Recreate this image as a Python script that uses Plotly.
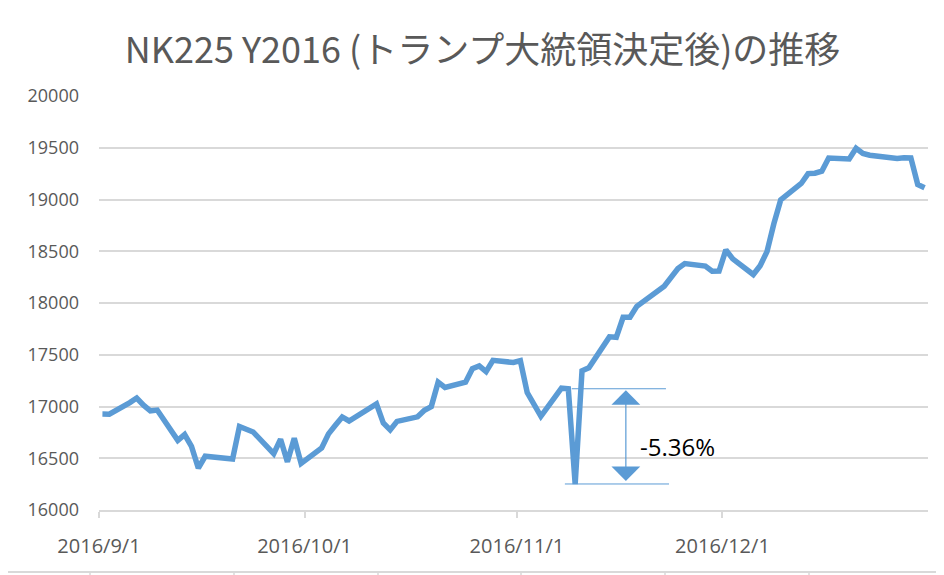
import pandas as pd
import plotly.graph_objects as go

# NK225 daily close, 2016/9/1 - 2016/12/30
dates = [
    "2016-09-01", "2016-09-02", "2016-09-05", "2016-09-06", "2016-09-07", "2016-09-08",
    "2016-09-09", "2016-09-12", "2016-09-13", "2016-09-14", "2016-09-15", "2016-09-16",
    "2016-09-20", "2016-09-21", "2016-09-23", "2016-09-26", "2016-09-27", "2016-09-28",
    "2016-09-29", "2016-09-30", "2016-10-03", "2016-10-04", "2016-10-05", "2016-10-06",
    "2016-10-07", "2016-10-11", "2016-10-12", "2016-10-13", "2016-10-14", "2016-10-17",
    "2016-10-18", "2016-10-19", "2016-10-20", "2016-10-21", "2016-10-24", "2016-10-25",
    "2016-10-26", "2016-10-27", "2016-10-28", "2016-10-31", "2016-11-01", "2016-11-02",
    "2016-11-04", "2016-11-07", "2016-11-08", "2016-11-09", "2016-11-10", "2016-11-11",
    "2016-11-14", "2016-11-15", "2016-11-16", "2016-11-17", "2016-11-18", "2016-11-21",
    "2016-11-22", "2016-11-24", "2016-11-25", "2016-11-28", "2016-11-29", "2016-11-30",
    "2016-12-01", "2016-12-02", "2016-12-05", "2016-12-06", "2016-12-07", "2016-12-08",
    "2016-12-09", "2016-12-12", "2016-12-13", "2016-12-14", "2016-12-15", "2016-12-16",
    "2016-12-19", "2016-12-20", "2016-12-21", "2016-12-22", "2016-12-26", "2016-12-27",
    "2016-12-28", "2016-12-29", "2016-12-30",
]
close = [
    16926.84, 16925.68, 17037.63, 17081.98, 17012.44, 16958.77,
    16965.76, 16672.92, 16729.04, 16614.24, 16405.01, 16519.29,
    16492.15, 16807.62, 16754.02, 16544.56, 16683.93, 16465.40,
    16693.71, 16449.84, 16598.67, 16735.65, 16819.24, 16899.10,
    16860.09, 17024.76, 16840.00, 16774.24, 16856.37, 16900.12,
    16963.61, 16998.91, 17235.02, 17184.59, 17234.42, 17365.25,
    17391.84, 17336.42, 17446.41, 17425.02, 17442.40, 17134.68,
    16905.36, 17177.21, 17171.38, 16251.54, 17344.42, 17374.79,
    17672.62, 17668.15, 17862.21, 17862.63, 17967.41, 18106.02,
    18162.94, 18333.41, 18381.22, 18356.89, 18307.04, 18308.48,
    18513.12, 18426.08, 18274.99, 18360.54, 18496.69, 18765.47,
    18996.37, 19155.03, 19250.52, 19253.61, 19273.79, 19401.15,
    19391.60, 19494.53, 19444.49, 19427.67, 19396.64, 19403.06,
    19401.72, 19145.14, 19114.37,
]
tick_dates = ["2016-09-01", "2016-10-01", "2016-11-01", "2016-12-01"]
tick_text = ["2016/9/1", "2016/10/1", "2016/11/1", "2016/12/1"]
y_ticks = [16000, 16500, 17000, 17500, 18000, 18500, 19000, 19500, 20000]

BLUE = "#5b9bd5"
GRID = "#d9d9d9"
GRAY = "#595959"

# Excel date axis puts each point in the middle of its day slot
x = pd.to_datetime(dates) + pd.Timedelta(hours=12)
day = pd.Timedelta(days=1)

# the drop on 11/9 (election day)
i = close.index(min(close))
before, after = close[i - 1], close[i]
pct = (after / before - 1) * 100
d_drop = pd.Timestamp(dates[i])

fig = go.Figure()
fig.add_trace(go.Scatter(
    x=x, y=close, mode="lines",
    line=dict(color=BLUE, width=5.5),
    hoverinfo="x+y", showlegend=False,
))

# reference lines for the drop
fig.add_shape(type="line", xref="x", yref="y",
              x0=d_drop, x1=d_drop + 13.75 * day, y0=before, y1=before,
              line=dict(color=BLUE, width=1))
fig.add_shape(type="line", xref="x", yref="y",
              x0=d_drop - day, x1=d_drop + 14.2 * day, y0=after, y1=after,
              line=dict(color=BLUE, width=1))
arrow_x = d_drop + 7.9 * day
fig.add_annotation(x=arrow_x, y=before - 15, ax=arrow_x, ay=after + 15,
                   xref="x", yref="y", axref="x", ayref="y",
                   text="", showarrow=True, arrowside="end+start",
                   arrowhead=1, arrowsize=4, arrowwidth=1.2, arrowcolor=BLUE,
                   standoff=0, startstandoff=0)
fig.add_annotation(x=d_drop + 9.7 * day, y=(before + after) / 2 - 100,
                   xref="x", yref="y", text=f"{pct:.2f}%", showarrow=False,
                   xanchor="left", yanchor="middle",
                   font=dict(family="Open Sans", size=24, color="#000000"))

# strip of the next sheet object visible at the bottom edge
fig.add_shape(type="line", xref="paper", yref="paper",
              x0=-99 / 829, x1=845 / 829, y0=-62 / 414, y1=-62 / 414,
              line=dict(color=GRID, width=2))
for px in [90, 234, 378, 521, 665, 809]:
    fig.add_shape(type="line", xref="paper", yref="paper",
                  x0=(px - 99) / 829, x1=(px - 99) / 829,
                  y0=-62 / 414, y1=-66 / 414,
                  line=dict(color=GRID, width=1.5))

# the page body adds an 8px margin, so the figure is 8px smaller each way
fig.update_layout(
    width=936, height=567,
    margin=dict(l=91, r=16, t=88, b=65, autoexpand=False),
    paper_bgcolor="white", plot_bgcolor="white",
    title=dict(text="NK225 Y2016 (トランプ大統領決定後)の推移",
               x=474.5 / 936, xref="container", xanchor="center",
               y=1 - 42 / 567, yref="container", yanchor="middle",
               font=dict(family="Noto Sans CJK JP", size=36, color=GRAY)),
    font=dict(family="Open Sans", color=GRAY),
)
fig.update_xaxes(
    type="date", automargin=False,
    range=[pd.Timestamp("2016-09-01"), pd.Timestamp("2016-12-31")],
    tickvals=pd.to_datetime(tick_dates), ticktext=tick_text,
    ticks="outside", ticklen=6, tickwidth=1.5, tickcolor=GRID,
    showline=True, linecolor=GRID, linewidth=1.5,
    showgrid=False, zeroline=False,
    tickfont=dict(family="Open Sans", size=20, color=GRAY),
    ticklabelstandoff=11,
)
fig.update_yaxes(
    range=[16000, 20000], automargin=False,
    tickvals=y_ticks, ticktext=[str(v) for v in y_ticks],
    showgrid=True, gridcolor=GRID, gridwidth=1.5,
    showline=False, zeroline=False, ticks="",
    tickfont=dict(family="Open Sans", size=18, color=GRAY),
    ticklabelstandoff=19,
)

fig.write_html("out.html")
